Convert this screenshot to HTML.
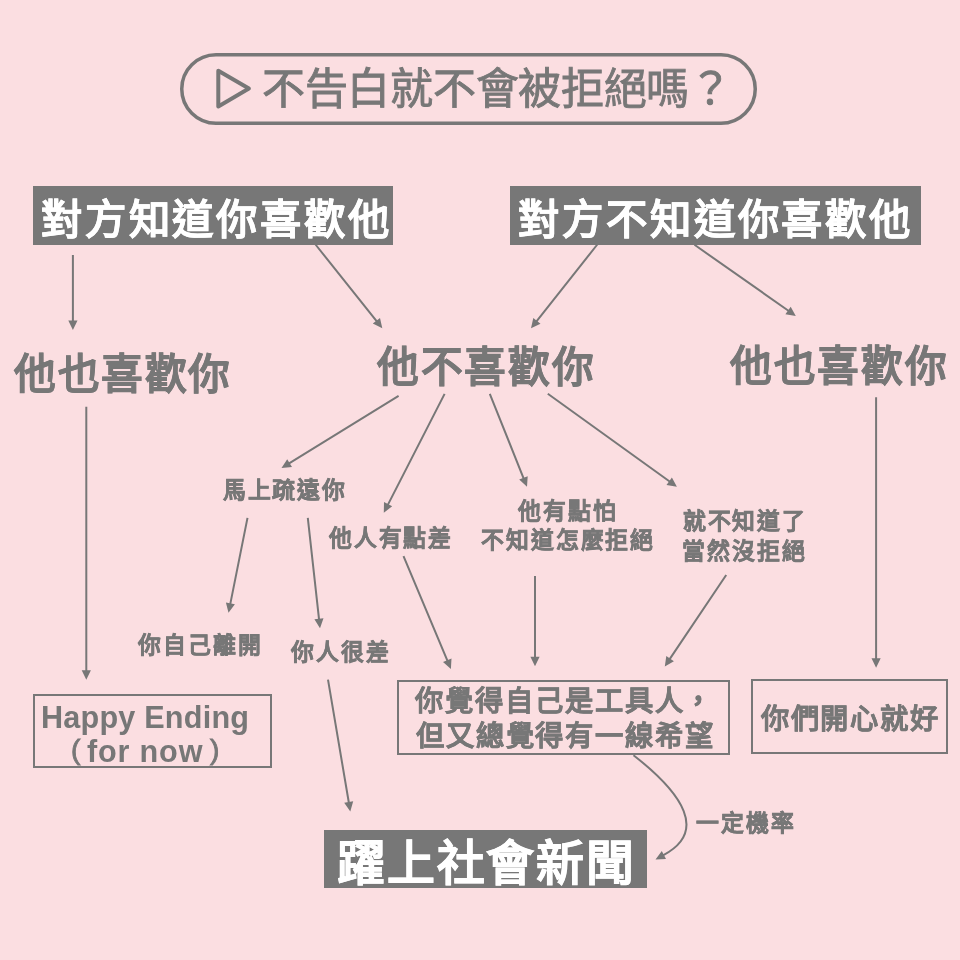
<!DOCTYPE html>
<html lang="zh-TW">
<head>
<meta charset="utf-8">
<style>
html,body{margin:0;padding:0;}
body{width:960px;height:960px;background:#fbdee1;position:relative;overflow:hidden;
font-family:"Liberation Sans",sans-serif;color:#777;}
.t{position:absolute;white-space:nowrap;line-height:1;will-change:transform;}
.box{position:absolute;box-sizing:border-box;}
.gbox{background:#777;}
.obox{border:2px solid #777;}
svg{position:absolute;left:0;top:0;}
</style>
</head>
<body>
<div class="box gbox" style="left:33px;top:186px;width:360px;height:59px;"></div>
<div class="box gbox" style="left:510px;top:186px;width:411px;height:59px;"></div>
<div class="box obox" style="left:33px;top:694px;width:239px;height:74px;"></div>
<div class="box obox" style="left:397px;top:680px;width:333px;height:75px;"></div>
<div class="box obox" style="left:751px;top:679px;width:197px;height:75px;"></div>
<div class="box gbox" style="left:324px;top:830px;width:323px;height:58px;"></div>
<div class="t" style="left:261.96px;top:68.06px;font-size:43.00px;letter-spacing:-0.28px;font-weight:500;-webkit-text-stroke:0.9px #777;">不告白就不會被拒絕嗎？</div>
<div class="t" style="left:40.94px;top:200.32px;font-size:41.30px;letter-spacing:2.82px;font-weight:700;color:#fff;-webkit-text-stroke:0.4px #fff;">對方知道你喜歡他</div>
<div class="t" style="left:518.34px;top:200.01px;font-size:41.30px;letter-spacing:2.91px;font-weight:700;color:#fff;-webkit-text-stroke:0.4px #fff;">對方不知道你喜歡他</div>
<div class="t" style="left:13.99px;top:353.68px;font-size:41.70px;letter-spacing:1.50px;font-weight:700;-webkit-text-stroke:0.5px #777;">他也喜歡你</div>
<div class="t" style="left:377.04px;top:346.50px;font-size:41.70px;letter-spacing:1.63px;font-weight:700;-webkit-text-stroke:0.5px #777;">他不喜歡你</div>
<div class="t" style="left:730.01px;top:346.29px;font-size:41.70px;letter-spacing:1.74px;font-weight:700;-webkit-text-stroke:0.5px #777;">他也喜歡你</div>
<div class="t" style="left:222.98px;top:479.09px;font-size:22.80px;letter-spacing:1.65px;font-weight:900;-webkit-text-stroke:0.5px #777;">馬上疏遠你</div>
<div class="t" style="left:329.43px;top:526.50px;font-size:22.80px;letter-spacing:1.81px;font-weight:900;-webkit-text-stroke:0.5px #777;">他人有點差</div>
<div class="t" style="left:518.02px;top:499.53px;font-size:22.80px;letter-spacing:1.86px;font-weight:900;-webkit-text-stroke:0.5px #777;">他有點怕</div>
<div class="t" style="left:480.95px;top:529.05px;font-size:22.80px;letter-spacing:1.90px;font-weight:900;-webkit-text-stroke:0.5px #777;">不知道怎麼拒絕</div>
<div class="t" style="left:682.87px;top:510.12px;font-size:22.80px;letter-spacing:1.71px;font-weight:900;-webkit-text-stroke:0.5px #777;">就不知道了</div>
<div class="t" style="left:681.84px;top:539.73px;font-size:22.80px;letter-spacing:1.89px;font-weight:900;-webkit-text-stroke:0.5px #777;">當然沒拒絕</div>
<div class="t" style="left:137.99px;top:633.96px;font-size:22.80px;letter-spacing:1.88px;font-weight:900;-webkit-text-stroke:0.5px #777;">你自己離開</div>
<div class="t" style="left:291.00px;top:640.53px;font-size:22.80px;letter-spacing:1.86px;font-weight:900;-webkit-text-stroke:0.5px #777;">你人很差</div>
<div class="t" style="left:695.68px;top:811.67px;font-size:22.80px;letter-spacing:1.94px;font-weight:900;-webkit-text-stroke:0.5px #777;">一定機率</div>
<div class="t" style="left:41.40px;top:701.72px;font-size:30.60px;letter-spacing:0.21px;font-weight:700;">Happy Ending</div>
<div class="t" style="left:70.65px;top:734.94px;font-size:28.23px;letter-spacing:0.00px;font-weight:400;-webkit-text-stroke:0.9px #777;">(</div>
<div class="t" style="left:414.89px;top:687.37px;font-size:28.30px;letter-spacing:1.94px;font-weight:700;-webkit-text-stroke:0.4px #777;">你覺得自己是工具人，</div>
<div class="t" style="left:415.78px;top:722.36px;font-size:28.30px;letter-spacing:1.84px;font-weight:700;-webkit-text-stroke:0.4px #777;">但又總覺得有一線希望</div>
<div class="t" style="left:760.82px;top:704.52px;font-size:28.30px;letter-spacing:1.72px;font-weight:700;-webkit-text-stroke:0.4px #777;">你們開心就好</div>
<div class="t" style="left:336.81px;top:839.58px;font-size:47.80px;letter-spacing:1.79px;font-weight:700;color:#fff;-webkit-text-stroke:0.6px #fff;">躍上社會新聞</div>
<div class="t" style="left:86.54px;top:736.30px;font-size:30.60px;letter-spacing:0.83px;font-weight:700;">for now</div>
<div class="t" style="left:210.09px;top:734.94px;font-size:28.23px;letter-spacing:0.00px;font-weight:400;-webkit-text-stroke:0.9px #777;">)</div>
<svg width="960" height="960" viewBox="0 0 960 960">
<rect x="181.75" y="54.75" width="573.5" height="68.5" rx="34.25" fill="none" stroke="#777" stroke-width="3.5"/>
<path d="M218.3 70.8 L248.9 88.6 L218.3 106.4 Z" fill="none" stroke="#777" stroke-width="4" stroke-linejoin="round"/>
<path d="M72.9 255.1L72.9 321.6 M315.5 244.5L377.0 321.6 M597.3 244.5L536.3 321.6 M694.5 244.8L788.8 311.0 M398.6 395.9L288.7 463.6 M444.6 393.9L387.7 505.1 M489.8 393.8L523.8 478.8 M547.8 393.8L670.0 481.7 M86.3 406.7L86.3 671.2 M876.1 397.2L876.1 659.3 M247.5 517.9L230.2 604.4 M307.8 517.9L319.1 619.8 M403.5 556.1L447.6 661.1 M535.0 576.0L535.0 657.8 M726.2 575.0L669.5 659.4 M328.0 679.7L348.9 803.0 M633.5 755.2C683.2 794.1 707.8 831.8 663.0 855.4" fill="none" stroke="#777" stroke-width="2"/>
<path d="M72.9 330.1L68.3 320.6L77.5 320.6Z M382.3 328.2L372.8 323.6L380.0 317.9Z M531.0 328.3L533.3 318.0L540.5 323.7Z M795.8 315.9L785.4 314.2L790.7 306.7Z M281.5 468.1L287.2 459.2L292.0 467.0Z M383.8 512.7L384.0 502.1L392.2 506.3Z M527.0 486.7L519.2 479.6L527.7 476.2Z M676.9 486.7L666.5 484.9L671.9 477.4Z M86.3 679.7L81.7 670.2L90.9 670.2Z M876.1 667.8L871.5 658.3L880.7 658.3Z M228.5 612.7L225.9 602.5L234.9 604.3Z M320.0 628.2L314.4 619.3L323.5 618.3Z M450.9 668.9L443.0 661.9L451.5 658.4Z M535.0 666.3L530.4 656.8L539.6 656.8Z M664.8 666.5L666.3 656.0L673.9 661.2Z M350.3 811.4L344.2 802.8L353.2 801.3Z M655.5 859.4L661.8 850.9L666.0 859.0Z" fill="#777"/>
</svg>
</body>
</html>
